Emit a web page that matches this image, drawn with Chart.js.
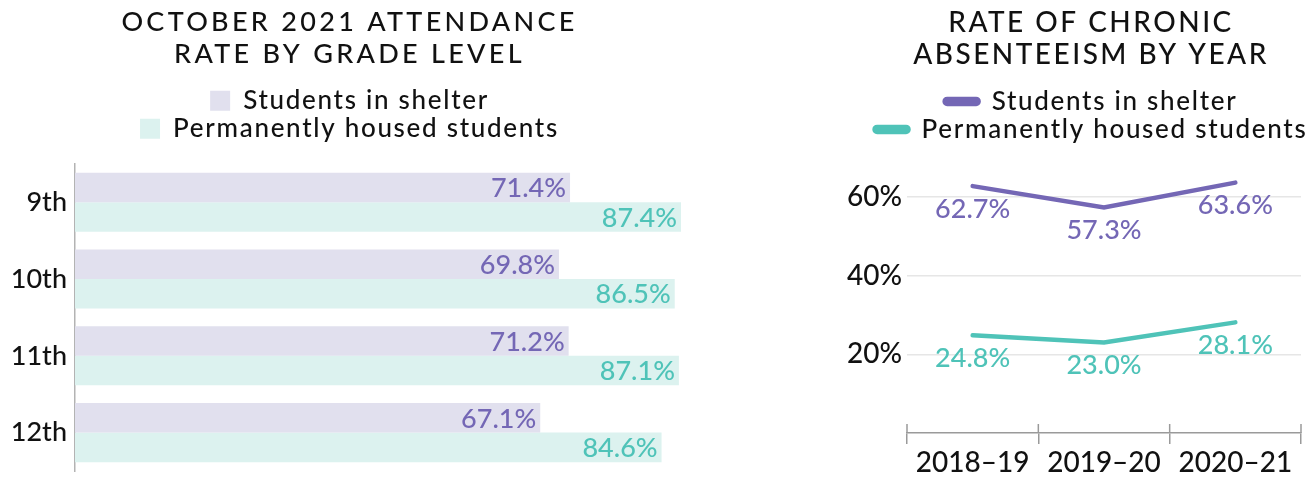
<!DOCTYPE html>
<html>
<head>
<meta charset="utf-8">
<script src="https://cdn.jsdelivr.net/npm/chart.js@4.4.1/dist/chart.umd.min.js"></script>
<style>
  html, body { margin: 0; padding: 0; background: #fff; overflow: hidden; width: 1312px; height: 478px; }
  #left { position: absolute; left: 0; top: 0; }
  #right { position: absolute; left: 820px; top: 0; }
</style>
</head>
<body>
<canvas id="left" width="700" height="478"></canvas>
<canvas id="right" width="542" height="478"></canvas>
<script>
// ---- data ----
const grades = ['9th', '10th', '11th', '12th'];
const shelterAttendance = [71.4, 69.8, 71.2, 67.1];
const housedAttendance = [87.4, 86.5, 87.1, 84.6];

const years = ['2018–19', '2019–20', '2020–21'];
const shelterAbsent = [62.7, 57.3, 63.6];
const housedAbsent = [24.8, 23.0, 28.1];
const absentTicks = [20, 40, 60];

const seriesNames = ['Students in shelter', 'Permanently housed students'];

// ---- style ----
const FONT = "'Lato Medium', Lato";
const PURPLE = '#7467b5';
const TEAL = '#4fc3b8';
const BAR_PURPLE = '#e1e0ee';
const BAR_TEAL = '#dcf2ef';
const INK = '#111111';

const valueLabels = {
  id: 'valueLabels',
  afterDatasetsDraw(chart, args, opts) {
    const ctx = chart.ctx;
    chart.data.datasets.forEach((ds, i) => {
      const meta = chart.getDatasetMeta(i);
      meta.data.forEach((el, j) => {
        const txt = ds.data[j].toFixed(1) + '%';
        ctx.save();
        ctx.font = opts.weight + ' ' + opts.size + 'px ' + FONT;
        ctx.fillStyle = ds.labelColor;
        ctx.textBaseline = 'middle';
        if (opts.mode === 'bar') {
          ctx.textAlign = 'right';
          ctx.fillText(txt, el.x - opts.dx, el.y + opts.dy);
        } else {
          ctx.textAlign = 'center';
          ctx.fillText(txt, el.x, el.y + opts.dy);
        }
        ctx.restore();
      });
    });
  }
};

const innerTicks = {
  id: 'innerTicks',
  afterDraw(chart, args, opts) {
    const s = chart.scales.x;
    const n = s.ticks.length;
    const step = n > 1 ? s.getPixelForTick(1) - s.getPixelForTick(0) : 0;
    const ctx = chart.ctx;
    ctx.save();
    ctx.strokeStyle = opts.color;
    ctx.lineWidth = opts.width;
    for (let i = 0; i <= n; i++) {
      const x = s.getPixelForTick(0) - step / 2 + i * step;
      ctx.beginPath();
      ctx.moveTo(x, s.top - opts.length);
      ctx.lineTo(x, s.top);
      ctx.stroke();
    }
    ctx.restore();
  }
};

function spaced(obj, methods, spacing) {
  methods.forEach(m => {
    const orig = obj[m];
    obj[m] = function (...args) {
      const ctx = this.ctx;
      const prev = ctx.letterSpacing;
      ctx.letterSpacing = spacing;
      const r = orig.apply(this, args);
      ctx.letterSpacing = prev || '0px';
      return r;
    };
  });
}

function noPad(s) { s.paddingTop = 0; s.paddingBottom = 0; }

// ---- left chart: attendance ----
const leftChart = new Chart(document.getElementById('left'), {
  type: 'bar',
  data: {
    labels: grades,
    datasets: [
      { label: seriesNames[0], data: shelterAttendance, backgroundColor: BAR_PURPLE, labelColor: PURPLE,
        categoryPercentage: 0.77, barPercentage: 1.0 },
      { label: seriesNames[1], data: housedAttendance, backgroundColor: BAR_TEAL, labelColor: TEAL,
        categoryPercentage: 0.77, barPercentage: 1.0 }
    ]
  },
  options: {
    indexAxis: 'y',
    responsive: false,
    animation: false,
    layout: { padding: { top: 0, right: 1, bottom: 7, left: 0 } },
    scales: {
      x: {
        position: 'top', min: 0, max: 90,
        ticks: { display: false }, grid: { display: false }, border: { display: false },
        afterFit(s) { s.height = 12; }
      },
      y: {
        grid: { display: false, drawTicks: false },
        border: { display: true, color: '#b3b3b3', width: 1.5 },
        ticks: { color: INK, font: { family: FONT, size: 27, weight: 500 }, padding: 8 },
        afterFit(s) { s.width = 75; noPad(s); }
      }
    },
    plugins: {
      title: {
        display: true, text: ['OCTOBER 2021 ATTENDANCE', 'RATE BY GRADE LEVEL'], color: INK,
        font: { family: FONT, size: 27, weight: 500, lineHeight: 1.2 },
        padding: { top: 6, bottom: 15 }
      },
      legend: {
        labels: { color: INK, font: { family: FONT, size: 26, weight: 500 }, boxWidth: 20, boxHeight: 20, padding: 2 }
      },
      tooltip: { enabled: false },
      valueLabels: { mode: 'bar', size: 27, weight: 500, dx: 4, dy: 1 }
    }
  },
  plugins: [valueLabels]
});

// ---- right chart: chronic absenteeism ----
const rightChart = new Chart(document.getElementById('right'), {
  type: 'line',
  data: {
    labels: years,
    datasets: [
      { label: seriesNames[0], data: shelterAbsent, borderColor: PURPLE, backgroundColor: PURPLE, labelColor: PURPLE,
        borderWidth: 4.5, pointRadius: 0, borderCapStyle: 'round', tension: 0 },
      { label: seriesNames[1], data: housedAbsent, borderColor: TEAL, backgroundColor: TEAL, labelColor: TEAL,
        borderWidth: 4.5, pointRadius: 0, borderCapStyle: 'round', tension: 0 }
    ]
  },
  options: {
    responsive: false,
    animation: false,
    layout: { padding: 0 },
    scales: {
      x: {
        offset: true,
        grid: { offset: true, drawOnChartArea: false, drawTicks: true, tickLength: 11, color: '#9a9a9a', lineWidth: 1.5 },
        border: { display: true, color: '#9a9a9a', width: 1.5 },
        ticks: { color: INK, font: { family: FONT, size: 28, weight: 500 }, padding: 2 },
        afterFit(s) { s.height = 45; s.paddingLeft = 0; s.paddingRight = 0; }
      },
      xTop: {
        type: 'category', position: 'top', labels: years,
        ticks: { display: false }, grid: { display: false }, border: { display: false },
        afterFit(s) { s.height = 5; }
      },
      y: {
        min: 0, max: 70,
        afterBuildTicks(s) { s.ticks = absentTicks.map(v => ({ value: v })); },
        grid: { color: '#e6e6e6', lineWidth: 1.5, drawTicks: false },
        border: { display: false },
        ticks: { color: INK, font: { family: FONT, size: 28, weight: 500 }, padding: 5, callback: v => v + '%' },
        afterFit(s) { s.width = 87; noPad(s); }
      },
      yRight: {
        type: 'linear', position: 'right', min: 0, max: 70,
        ticks: { display: false }, grid: { display: false }, border: { display: false },
        afterFit(s) { s.width = 61; noPad(s); }
      }
    },
    plugins: {
      title: {
        display: true, text: ['RATE OF CHRONIC', 'ABSENTEEISM BY YEAR'], color: INK,
        font: { family: FONT, size: 28, weight: 500, lineHeight: 1.15 },
        padding: { top: 7, bottom: 15 }
      },
      legend: {
        labels: { color: INK, font: { family: FONT, size: 26, weight: 500 }, boxWidth: 34, boxHeight: 5, padding: 2,
          useBorderRadius: true, borderRadius: 2.5 }
      },
      tooltip: { enabled: false },
      valueLabels: { mode: 'line', size: 27, weight: 500, dy: 23 },
      innerTicks: { color: '#9a9a9a', width: 1.5, length: 9 }
    }
  },
  plugins: [valueLabels, innerTicks]
});

// letter spacing for titles and legends
spaced(leftChart.titleBlock, ['draw'], '3.3px');
spaced(rightChart.titleBlock, ['draw'], '2.5px');
spaced(leftChart.legend, ['fit', 'draw'], '1.7px');
spaced(rightChart.legend, ['fit', 'draw'], '1.7px');
leftChart.update();
rightChart.update();
</script>
</body>
</html>
